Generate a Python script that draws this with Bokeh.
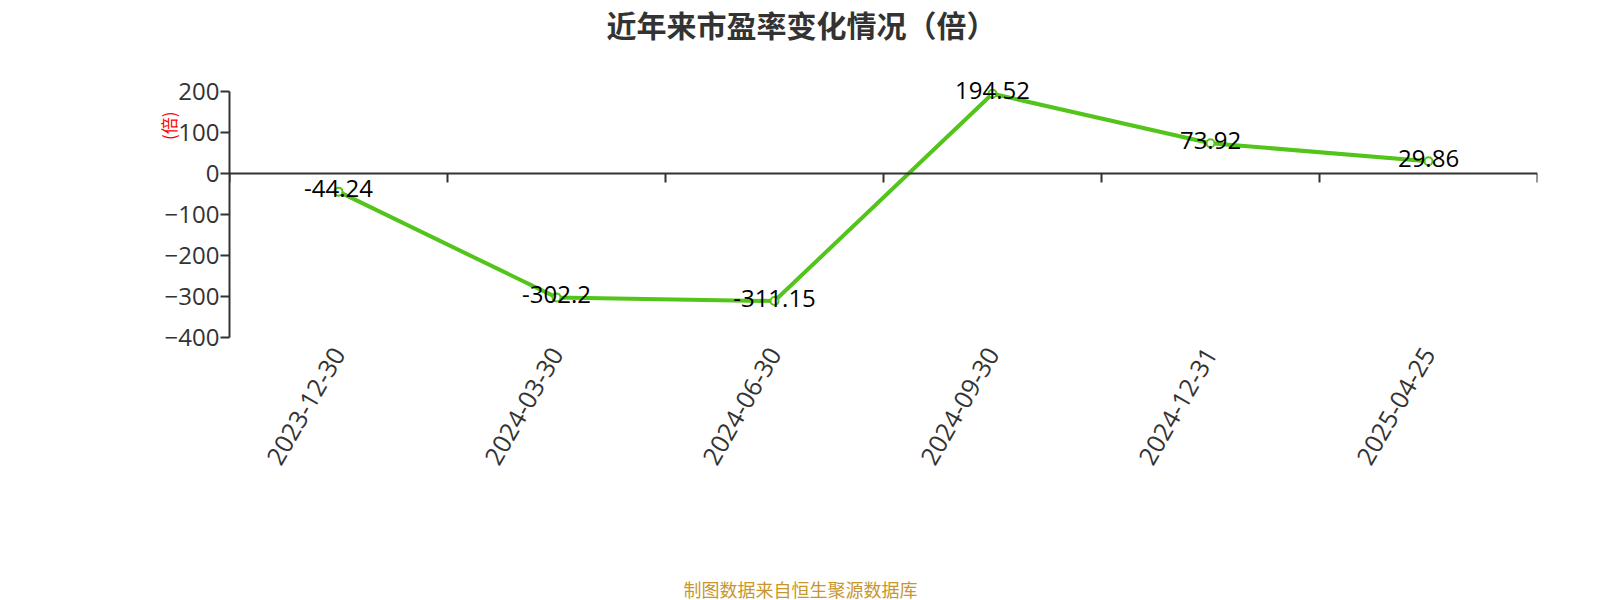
import math
from bokeh.plotting import figure
from bokeh.models import (Range1d, FixedTicker, Span, Label, ColumnDataSource, LinearAxis, Title)
from bokeh.core.properties import value
from bokeh.embed import file_html
from bokeh.resources import INLINE

# ---- data ----
dates = ["2023-12-30", "2024-03-30", "2024-06-30", "2024-09-30", "2024-12-31", "2025-04-25"]
pe_values = [-44.24, -302.2, -311.15, 194.52, 73.92, 29.86]
pe_labels = ["-44.24", "-302.2", "-311.15", "194.52", "73.92", "29.86"]
y_ticks = [-400, -300, -200, -100, 0, 100, 200]
title_text = "近年来市盈率变化情况（倍）"
y_name = "(倍)"
footer_text = "制图数据来自恒生聚源数据库"

GREEN = "#52c41a"
AXIS = "#333333"
NUM_FONT = "Open Sans"
CJK_FONT = "Noto Sans CJK SC"

W, H = 1600, 600
LEFT = 229
PLOT_TOP, PLOT_BOTTOM = 91, 337      # pixel rows of the 200 and -400 gridlines
FRAME_W = 1308
RIGHT = W - LEFT - FRAME_W
y_min, y_top = -400, 200
units_per_px = (y_top - y_min) / (PLOT_BOTTOM - PLOT_TOP)
# frame covers the full canvas height; the plotted band is 200 .. -400
y_max = y_top + PLOT_TOP * units_per_px
y_low = y_min - (H - PLOT_BOTTOM) * units_per_px

p = figure(width=W, height=H, output_backend="svg", toolbar_location=None,
           x_range=Range1d(0, len(dates)), y_range=Range1d(y_low, y_max),
           min_border_left=LEFT, min_border_right=RIGHT,
           min_border_top=0, min_border_bottom=0,
           x_axis_type=None, y_axis_type=None)
p.outline_line_color = None
p.background_fill_color = "white"
p.border_fill_color = "white"

xs = [i + 0.5 for i in range(len(dates))]

# y axis
yaxis = LinearAxis(ticker=FixedTicker(ticks=y_ticks), bounds=(y_min, y_top))
yaxis.axis_line_color = AXIS
yaxis.axis_line_width = 2
yaxis.major_tick_line_color = AXIS
yaxis.major_tick_line_width = 2
yaxis.major_tick_out = 9
yaxis.major_tick_in = 0
yaxis.minor_tick_line_color = None
yaxis.major_label_text_font = NUM_FONT
yaxis.major_label_text_font_size = "24px"
yaxis.major_label_text_color = AXIS
yaxis.major_label_standoff = 1
p.add_layout(yaxis, "left")

# y-axis name
p.add_layout(Title(text=y_name, align="right", offset=111, standoff=-39,
                   text_font=CJK_FONT, text_font_size="17px", text_font_style="normal",
                   text_color="#ff0000"), "left")

# grid (only across the plotted band)
p.ygrid.ticker = FixedTicker(ticks=y_ticks)
p.ygrid.grid_line_color = "#cccccc"
p.ygrid.grid_line_width = 1.5
p.ygrid.grid_line_dash = "6 5"
p.xgrid.grid_line_color = None

# x axis line at zero with ticks at category boundaries
p.add_layout(Span(location=0, dimension="width", line_color=AXIS, line_width=2))
tick_len = 9 * units_per_px
bounds = list(range(len(dates) + 1))
p.segment(x0=bounds, y0=[0] * len(bounds), x1=bounds, y1=[-tick_len] * len(bounds),
          line_color=AXIS, line_width=2)

# category labels under the plotted band, rotated 60 degrees
label_y = y_min - 12 * units_per_px
p.text(x=xs, y=[label_y] * len(xs), text=dates, angle=math.pi / 3,
       text_align="right", text_baseline="middle",
       text_font=value(NUM_FONT), text_font_size="25px", text_color=AXIS)

# series
src = ColumnDataSource(dict(x=xs, y=pe_values, t=pe_labels))
p.line("x", "y", source=src, line_color=GREEN, line_width=4)
p.scatter("x", "y", source=src, size=8, fill_color="white", line_color=GREEN, line_width=2)
p.text("x", "y", text="t", source=src, text_align="center", text_baseline="middle",
       y_offset=-3,
       text_font=value(NUM_FONT), text_font_size="24px", text_color="#000000")

# chart title and footer (screen units: x from frame left, y up from frame bottom)
p.add_layout(Label(x=801 - LEFT, y=H - 23, x_units="screen", y_units="screen",
                   text=title_text, text_align="center", text_baseline="middle",
                   text_font=CJK_FONT, text_font_style="bold", text_font_size="30px",
                   text_color="#333333"))
p.add_layout(Label(x=800 - LEFT, y=H - 588, x_units="screen", y_units="screen",
                   text=footer_text, text_align="center", text_baseline="middle",
                   text_font=CJK_FONT, text_font_size="18px", text_color="#c9962c"))

open("out.html", "w").write(file_html(p, INLINE))
